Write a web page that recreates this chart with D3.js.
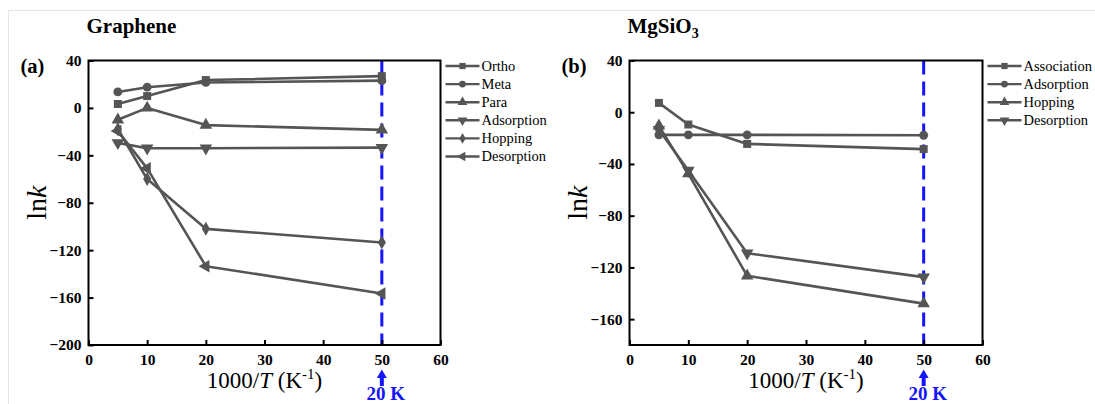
<!DOCTYPE html>
<html>
<head>
<meta charset="utf-8">
<script src="https://cdn.jsdelivr.net/npm/d3@7"></script>
<style>
  html, body { margin: 0; padding: 0; background: #fff; }
</style>
</head>
<body>
<svg id="chart" width="1095" height="404"></svg>
<script>
// ---- data ----
const xValues = [5, 10, 20, 50];
const xTicks = [0, 10, 20, 30, 40, 50, 60];

// Panel (a) Graphene
const grapheneNames = ["Ortho", "Meta", "Para", "Adsorption", "Hopping", "Desorption"];
const grapheneOrtho      = [3.3, 10, 23.5, 26.8];
const grapheneMeta       = [13.5, 17.5, 21.5, 23];
const graphenePara       = [-10, 0, -14.5, -18.5];
const grapheneAdsorption = [-29.5, -34, -34, -33.5];
const grapheneHopping    = [-18, -60, -102, -113.5];
const grapheneDesorption = [-19.5, -51, -133.5, -156.5];
const grapheneYTicks = [40, 0, -40, -80, -120, -160, -200];
const grapheneYDomain = [-200, 40];

// Panel (b) MgSiO3
const mgNames = ["Association", "Adsorption", "Hopping", "Desorption"];
const mgAssociation = [7.2, -9.5, -24.5, -28.5];
const mgAdsorption  = [-17.5, -17.5, -17.5, -17.8];
const mgHopping     = [-10.5, -47.5, -126.5, -148];
const mgDesorption  = [-13.5, -45, -109, -127.5];
const mgYTicks = [40, 0, -40, -80, -120, -160];
const mgYDomain = [-180, 40];

// ---- drawing ----
const FONT = "'Liberation Serif', 'Times New Roman', Times, 'DejaVu Serif', serif";
const svg = d3.select("#chart").attr("font-family", FONT);
const LINE = "#555555";
const BLUE = "#1414ff";

// faint outer frame
svg.append("line").attr("x1", 8).attr("x2", 1095).attr("y1", 10.5).attr("y2", 10.5)
  .attr("stroke", "#e4e4e4").attr("stroke-width", 1);
svg.append("line").attr("x1", 8.5).attr("x2", 8.5).attr("y1", 10).attr("y2", 404)
  .attr("stroke", "#e4e4e4").attr("stroke-width", 1);

const markerDefs = {
  square:   { type: d3.symbolSquare,   size: 64, rot: 0 },
  circle:   { type: d3.symbolCircle,   size: 62, rot: 0 },
  triUp:    { type: d3.symbolTriangle, size: 68, rot: 0 },
  triDown:  { type: d3.symbolTriangle, size: 68, rot: 180 },
  diamond:  { type: d3.symbolDiamond,  size: 56, rot: 0 },
  triLeft:  { type: d3.symbolTriangle, size: 68, rot: -90 }
};

function drawPanel(cfg) {
  const x = d3.scaleLinear().domain([0, 60]).range([cfg.left, cfg.right]);
  const y = d3.scaleLinear().domain(cfg.yDomain).range([cfg.bottom, cfg.top]);
  const g = svg.append("g");

  // blue dashed 20 K line
  g.append("line")
    .attr("x1", x(50)).attr("x2", x(50))
    .attr("y1", cfg.top).attr("y2", cfg.bottom)
    .attr("stroke", BLUE).attr("stroke-width", 3)
    .attr("stroke-dasharray", "14,7");

  // series
  const lineGen = d3.line().x((d, i) => x(xValues[i])).y(d => y(d));
  cfg.series.forEach(s => {
    g.append("path").datum(s.values)
      .attr("d", lineGen)
      .attr("fill", "none").attr("stroke", LINE).attr("stroke-width", 2.6)
      .attr("stroke-linejoin", "round");
  });
  cfg.series.forEach(s => {
    const m = markerDefs[s.marker];
    g.selectAll(null).data(s.values).enter().append("path")
      .attr("d", d3.symbol().type(m.type).size(m.size))
      .attr("transform", (d, i) => `translate(${x(xValues[i])},${y(d)}) rotate(${m.rot})`)
      .attr("fill", LINE);
  });

  // axes box
  g.append("rect")
    .attr("x", cfg.left).attr("y", cfg.top)
    .attr("width", cfg.right - cfg.left).attr("height", cfg.bottom - cfg.top)
    .attr("fill", "none").attr("stroke", "#000").attr("stroke-width", 2);

  // x axis (inward ticks)
  const xAxis = d3.axisBottom(x).tickValues(xTicks).tickSize(-5).tickPadding(9).tickFormat(d3.format("d"));
  const gx = g.append("g").attr("transform", `translate(0,${cfg.bottom})`).call(xAxis)
    .attr("font-family", FONT);
  gx.select(".domain").remove();
  gx.selectAll(".tick line").attr("stroke", "#000").attr("stroke-width", 2);
  gx.selectAll("text").attr("font-family", FONT).attr("font-size", 15.5)
    .attr("font-weight", "bold").attr("fill", "#000");

  // y axis
  const yAxis = d3.axisLeft(y).tickValues(cfg.yTicks).tickSize(-5).tickPadding(7).tickFormat(d3.format("d"));
  const gy = g.append("g").attr("transform", `translate(${cfg.left},0)`).call(yAxis)
    .attr("font-family", FONT);
  gy.select(".domain").remove();
  gy.selectAll(".tick line").attr("stroke", "#000").attr("stroke-width", 2);
  gy.selectAll("text").attr("font-family", FONT).attr("font-size", 15.5)
    .attr("font-weight", "bold").attr("fill", "#000");

  // axis labels
  const xl = g.append("text")
    .attr("x", (cfg.left + cfg.right) / 2).attr("y", 388)
    .attr("text-anchor", "middle").attr("font-size", 23).attr("fill", "#000");
  xl.append("tspan").text("1000/");
  xl.append("tspan").attr("font-style", "italic").text("T");
  xl.append("tspan").text(" (K");
  xl.append("tspan").attr("font-size", 15).attr("dy", -9).text("-1");
  xl.append("tspan").attr("dy", 9).text(")");

  const yl = g.append("text")
    .attr("transform", `translate(${cfg.left - 43},${(cfg.top + cfg.bottom) / 2}) rotate(-90)`)
    .attr("text-anchor", "middle").attr("font-size", 28).attr("fill", "#000");
  yl.append("tspan").text("ln");
  yl.append("tspan").attr("font-style", "italic").text("k");

  // panel letter
  g.append("text").attr("x", cfg.left - 68).attr("y", 73)
    .attr("font-size", 20.5).attr("font-weight", "bold").attr("fill", "#000").text(cfg.letter);

  // title
  const t = g.append("text").attr("x", cfg.left - 2).attr("y", 33)
    .attr("font-size", 21).attr("font-weight", "bold").attr("fill", "#000");
  cfg.title.forEach(p => {
    const sp = t.append("tspan").text(p.t);
    if (p.sub) sp.attr("font-size", 14).attr("dy", 5);
  });

  // 20 K arrow + label
  const ax = x(50);
  g.append("rect").attr("x", ax - 2).attr("y", 376).attr("width", 4).attr("height", 10).attr("fill", BLUE);
  g.append("path").attr("d", `M${ax - 5},378 L${ax},369.5 L${ax + 5},378 Z`).attr("fill", BLUE);
  g.append("text").attr("x", ax + 4).attr("y", 400).attr("text-anchor", "middle")
    .attr("font-size", 19).attr("font-weight", "bold").attr("fill", BLUE).text("20 K");

  // legend
  const lg = g.append("g");
  cfg.series.forEach((s, i) => {
    const yy = cfg.legendY0 + i * cfg.legendStep;
    const lx0 = cfg.right + 5, lx1 = cfg.right + 39;
    lg.append("line").attr("x1", lx0).attr("x2", lx1).attr("y1", yy).attr("y2", yy)
      .attr("stroke", LINE).attr("stroke-width", 2.4);
    const m = markerDefs[s.marker];
    lg.append("path").attr("d", d3.symbol().type(m.type).size(m.size * 0.6))
      .attr("transform", `translate(${(lx0 + lx1) / 2},${yy}) rotate(${m.rot})`).attr("fill", LINE);
    lg.append("text").attr("x", lx1 + 2).attr("y", yy + 4.5)
      .attr("font-size", 14.5).attr("fill", "#000").text(s.name);
  });
}

drawPanel({
  left: 88.5, right: 440.5, top: 60.5, bottom: 345,
  yDomain: grapheneYDomain, yTicks: grapheneYTicks,
  letter: "(a)", title: [{ t: "Graphene" }],
  legendY0: 66, legendStep: 18.1,
  series: [
    { name: grapheneNames[0], values: grapheneOrtho, marker: "square" },
    { name: grapheneNames[1], values: grapheneMeta, marker: "circle" },
    { name: grapheneNames[2], values: graphenePara, marker: "triUp" },
    { name: grapheneNames[3], values: grapheneAdsorption, marker: "triDown" },
    { name: grapheneNames[4], values: grapheneHopping, marker: "diamond" },
    { name: grapheneNames[5], values: grapheneDesorption, marker: "triLeft" }
  ]
});

drawPanel({
  left: 629.5, right: 982.5, top: 60.5, bottom: 345,
  yDomain: mgYDomain, yTicks: mgYTicks,
  letter: "(b)", title: [{ t: "MgSiO" }, { t: "3", sub: true }],
  legendY0: 66, legendStep: 18.1,
  series: [
    { name: mgNames[0], values: mgAssociation, marker: "square" },
    { name: mgNames[1], values: mgAdsorption, marker: "circle" },
    { name: mgNames[2], values: mgHopping, marker: "triUp" },
    { name: mgNames[3], values: mgDesorption, marker: "triDown" }
  ]
});
</script>
</body>
</html>
